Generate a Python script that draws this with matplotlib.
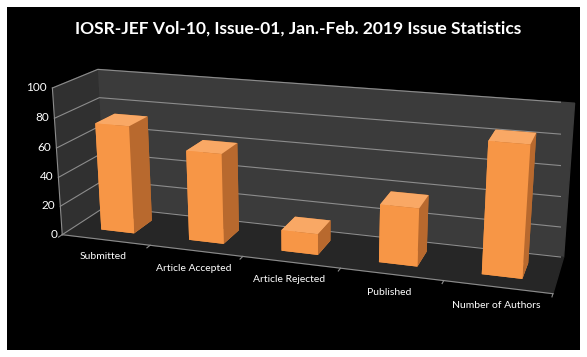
import numpy as np
import matplotlib.pyplot as plt
from matplotlib.patches import Rectangle

# donnees
categories = ['Submitted', 'Article Accepted', 'Article Rejected', 'Published', 'Number of Authors']
values = [74, 61, 14, 38, 84]
zticks = [0, 20, 40, 60, 80, 100]
title = 'IOSR-JEF Vol-10, Issue-01, Jan.-Feb. 2019 Issue Statistics'

fig = plt.figure(figsize=(5.87, 3.57), dpi=100, facecolor='white')
fig.patches.append(Rectangle((7/587, 7/357), 573/587, 343/357, transform=fig.transFigure,
                             facecolor='black', edgecolor='none', zorder=-10))
fig.text(0.508, 1 - 29/357, title, color='white', fontsize=12.5, fontweight='bold',
         ha='center', va='center', family='Lato')

ax = fig.add_axes([0.064, -0.2343, 0.891, 1.465], projection='3d', computed_zorder=False)
ax.set_facecolor((0, 0, 0, 0))
ax.set_proj_type('persp', focal_length=0.4)
ax.view_init(elev=17, azim=-72)
ax.set_box_aspect((5.8, 1.1, 1.8))

n = len(values)
x = np.arange(n)
ax.set_xlim(-0.5, n - 0.5)
ax.set_ylim(0, 1)
ax.set_zlim(0, 100)

# murs
ax.xaxis.set_pane_color('#303030')
ax.yaxis.set_pane_color('#3b3b3b')
ax.zaxis.set_pane_color('#262626')
ax.grid(False)
for zt in zticks:
    ax.plot([-0.5, -0.5, n - 0.5], [0, 1, 1], [zt, zt, zt], color='#8c8c8c', lw=0.8, zorder=1)
    ax.text(-0.56, 0, zt, str(zt), color='white', fontsize=8.5, family='Lato',
            ha='right', va='center', zorder=3)
ax.plot([-0.5, -0.5], [0, 0], [0, 100], color='#8c8c8c', lw=0.8, zorder=1)
for b in np.arange(n + 1) - 0.5:
    ax.plot([b, b], [0, -0.08], [0, 0], color='#8c8c8c', lw=0.8, zorder=1)

# barres
face_cols = ['#F79646', '#F9A865', '#F79646', '#B86B2E', '#F79646', '#B8692E']
for i in range(n):
    ax.bar3d(x[i] - 0.19, 0.28, 0, 0.38, 0.45, values[i], color=face_cols, shade=False, zorder=5 + i)

ax.set_xticks(x, categories)
for lab in ax.get_xticklabels():
    lab.set_family('Lato')
ax.set_zticks([])
ax.set_yticks([])
ax.tick_params(axis='x', color=(0, 0, 0, 0), labelcolor='white', labelsize=7.5, pad=6)
ax.xaxis.line.set_color('#8c8c8c')
ax.zaxis.line.set_color((0, 0, 0, 0))
ax.yaxis.line.set_color((0, 0, 0, 0))

fig.savefig('out.png', dpi=100, facecolor='white')
